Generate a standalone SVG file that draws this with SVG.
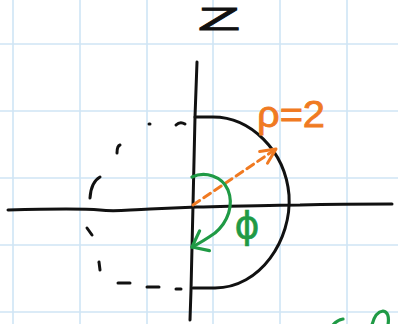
<svg xmlns="http://www.w3.org/2000/svg" width="398" height="324" viewBox="0 0 398 324">
<style>
.grid{stroke:#cfe5f5;stroke-width:1.6;fill:none}
.ink{stroke:#111;stroke-width:3;fill:none;stroke-linecap:round;stroke-linejoin:round}
.or{stroke:#f07a22;stroke-width:3;fill:none;stroke-linecap:round;stroke-linejoin:round}
.gr{stroke:#1f9a45;stroke-width:3.2;fill:none;stroke-linecap:round;stroke-linejoin:round}
.lbl{font-family:"Liberation Sans","DejaVu Sans",sans-serif}
</style>
<defs>
<marker id="arrOr" markerUnits="userSpaceOnUse" orient="auto" refX="0" refY="0" overflow="visible">
<path d="M-15,-7 L0,0 L-15,7" style="stroke:#f07a22;stroke-width:3;fill:none;stroke-linecap:round;stroke-linejoin:round;stroke-dasharray:none"/>
</marker>
<marker id="arrGr" markerUnits="userSpaceOnUse" orient="auto" refX="0" refY="0" overflow="visible">
<path d="M-14,-11 L0,0 L-14,11" style="stroke:#1f9a45;stroke-width:3.2;fill:none;stroke-linecap:round;stroke-linejoin:round"/>
</marker>
</defs>
<rect width="398" height="324" fill="#fff"/>
<g id="grid" class="grid">
<path d="M13,0V324M80,0V324M147,0V324M213,0V324M280,0V324M347,0V324"/>
<path d="M0,44H398M0,111H398M0,178H398M0,245H398M0,312H398"/>
</g>
<g id="axes" class="ink">
<path d="M8,210 C40,209 80,208 100,210 C115,212 125,210 150,209 L197,207 C240,206 280,205 300,205 C340,204 370,204 392,204"/>
<path d="M197,62 L195,117 L193,205 L191,290 L190,320"/>
</g>
<g id="outline" class="ink">
<path d="M195,117 L213,117 C250,117 285,150 289,195 C292,240 260,288 215,288 L193,288"/>
</g>
<g id="dashed-half" class="ink">
<path d="M149,124 l1,0"/>
<path d="M176,125 Q180,121 185,124"/>
<path d="M120,145 Q117,146 117,153"/>
<path d="M100,177 Q91,182 90,198"/>
<path d="M87,228 L92,235"/>
<path d="M99,262 L100,270"/>
<path d="M118,283 L130,283"/>
<path d="M147,287 L159,287"/>
<path d="M176,289 L181,289"/>
</g>
<g id="connectors">
<path class="or" d="M193,205 L276,149" stroke-dasharray="8 5" marker-end="url(#arrOr)"/>
<path class="gr" d="M192,177 C205,171 222,176 228,190 C234,205 228,222 215,233 C205,240 198,244 192,247" marker-end="url(#arrGr)"/>
</g>
<g id="label-z">
<text class="lbl" x="198" y="30" font-size="31" fill="#111" stroke="#111" stroke-width="0.8" textLength="42" lengthAdjust="spacingAndGlyphs">Z</text>
</g>
<g id="label-rho">
<text class="lbl" x="257" y="127" font-size="36" fill="#f07a22" stroke="#f07a22" stroke-width="0.8" textLength="68" lengthAdjust="spacingAndGlyphs">ρ=2</text>
</g>
<g id="label-phi">
<text x="247" y="238" font-size="38" fill="#1f9a45" stroke="#1f9a45" stroke-width="0.6" text-anchor="middle" font-family="DejaVu Sans, sans-serif">ϕ</text>
</g>
<g id="fragment" class="gr">
<path d="M333,325 Q337,320 343,319"/>
<path d="M372,325 Q375,312 383,311 Q390,312 388,325"/>
</g>
</svg>
